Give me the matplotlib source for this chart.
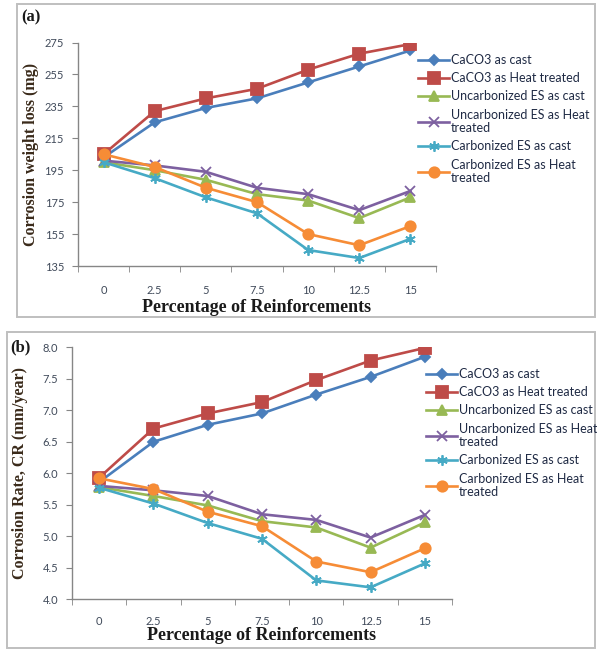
import numpy as np
import matplotlib
matplotlib.use("Agg")
import matplotlib.pyplot as plt
from matplotlib.patches import Rectangle

# data
categories = ["0", "2.5", "5", "7.5", "10", "12.5", "15"]
series_names = ["CaCO3 as cast", "CaCO3 as Heat treated", "Uncarbonized ES as cast",
                "Uncarbonized ES as Heat\ntreated", "Carbonized ES as cast",
                "Carbonized ES as Heat\ntreated"]

# (a) corrosion weight loss (mg)
wl_caco3_cast = [203, 225, 234, 240, 250, 260, 270]
wl_caco3_heat = [205, 232, 240, 246, 258, 268, 274]
wl_uncarb_cast = [200, 195, 189, 180, 176, 165, 178]
wl_uncarb_heat = [201, 198, 194, 184, 180, 170, 182]
wl_carb_cast = [200, 190, 178, 168, 145, 140, 152]
wl_carb_heat = [205, 197, 184, 175, 155, 148, 160]

# (b) corrosion rate (mm/year)
cr_caco3_cast = [5.86, 6.50, 6.77, 6.95, 7.25, 7.53, 7.85]
cr_caco3_heat = [5.93, 6.71, 6.95, 7.13, 7.48, 7.79, 7.99]
cr_uncarb_cast = [5.78, 5.64, 5.49, 5.24, 5.14, 4.82, 5.22]
cr_uncarb_heat = [5.80, 5.73, 5.64, 5.35, 5.26, 4.98, 5.34]
cr_carb_cast = [5.77, 5.52, 5.21, 4.96, 4.30, 4.19, 4.57]
cr_carb_heat = [5.92, 5.75, 5.39, 5.16, 4.60, 4.43, 4.81]

colors = ["#4A7EBB", "#BE4B48", "#98B954", "#7D60A0", "#46AAC5", "#F68C36"]
markers = ["D", "s", "^", "x", (6, 2, 0), "o"]
msizes = [5.5, 8, 7, 7.5, 7.5, 7.5]

tick_col = "#404a5a"
label_font = "Liberation Serif"
tick_font = "Lato"

fig = plt.figure(figsize=(5.97, 6.5), dpi=100)

# panel frames
fig.patches.append(Rectangle((17 / 597, 1 - 317 / 650), 578 / 597, 313 / 650,
                             transform=fig.transFigure, fill=False,
                             edgecolor="#BFBFBF", linewidth=1.4))
fig.patches.append(Rectangle((7 / 597, 1 - 648 / 650), 588 / 597, 316 / 650,
                             transform=fig.transFigure, fill=False,
                             edgecolor="#BFBFBF", linewidth=1.4))


def draw_panel(ax, data, ylim, yticks, yfmt, ylabel, leg_anchor, xpad, xlabpad):
    x = np.arange(len(categories))
    for i in range(len(data)):
        ax.plot(x, data[i], color=colors[i], linewidth=1.9, marker=markers[i],
                markersize=msizes[i], markerfacecolor=colors[i],
                markeredgecolor=colors[i], markeredgewidth=1.3,
                label=series_names[i])
    ax.set_xlim(-0.5, len(categories) - 0.5)
    ax.set_ylim(*ylim)
    ax.set_yticks(yticks)
    ax.set_yticklabels([yfmt.format(v) for v in yticks])
    ax.set_xticks(x)
    ax.set_xticklabels(categories)
    ax.set_xticks(np.arange(len(categories) + 1) - 0.5, minor=True)
    ax.tick_params(axis="x", which="major", length=0, pad=xpad)
    ax.tick_params(axis="x", which="minor", length=4, color="#868686", direction="out")
    ax.tick_params(axis="y", length=4, color="#868686", direction="out", pad=6)
    for lab in ax.get_xticklabels() + ax.get_yticklabels():
        lab.set_fontfamily(tick_font)
        lab.set_fontsize(8)
        lab.set_color(tick_col)
    for s in ["top", "right"]:
        ax.spines[s].set_visible(False)
    for s in ["left", "bottom"]:
        ax.spines[s].set_color("#868686")
        ax.spines[s].set_linewidth(1.0)
    ax.set_xlabel("Percentage of Reinforcements", fontfamily=label_font,
                  fontweight="bold", fontsize=13, color="#1a1a1a", labelpad=xlabpad)
    ax.set_ylabel(ylabel, fontfamily=label_font, fontweight="bold", fontsize=11.5,
                  color="#3a2a1a")
    leg = fig.legend(*ax.get_legend_handles_labels(), loc="upper left",
                     bbox_to_anchor=leg_anchor, frameon=False, handlelength=2.5,
                     handletextpad=0.15, labelspacing=0.5, borderaxespad=0,
                     prop={"family": tick_font, "size": 9})
    for t in leg.get_texts():
        t.set_color("#1f2a44")
        t.set_linespacing(1.15)


ax1 = fig.add_axes([78 / 597, 1 - 266 / 650, 358 / 597, 223.5 / 650])
draw_panel(ax1, [wl_caco3_cast, wl_caco3_heat, wl_uncarb_cast, wl_uncarb_heat,
                 wl_carb_cast, wl_carb_heat],
           (135, 275), np.arange(135, 276, 20), "{:d}", "Corrosion weight loss (mg)",
           (413 / 597, 1 - 49 / 650), 14, 2)
ax1.yaxis.set_label_coords(-0.11, 0.5)

ax2 = fig.add_axes([72 / 597, 1 - 599.3 / 650, 380 / 597, 252 / 650])
draw_panel(ax2, [cr_caco3_cast, cr_caco3_heat, cr_uncarb_cast, cr_uncarb_heat,
                 cr_carb_cast, cr_carb_heat],
           (4.0, 8.0), np.arange(4.0, 8.01, 0.5), "{:.1f}", "Corrosion Rate, CR (mm/year)",
           (421 / 597, 1 - 363 / 650), 12, 0)
ax2.yaxis.set_label_coords(-0.115, 0.5)

fig.text(21 / 597, 1 - 17 / 650, "(a)", fontfamily=label_font, fontweight="bold",
         fontsize=12, color="#1a1a1a", va="center", ha="left")
fig.text(10 / 597, 1 - 347 / 650, "(b)", fontfamily=label_font, fontweight="bold",
         fontsize=12, color="#1a1a1a", va="center", ha="left")

fig.savefig("out.png", dpi=100)
